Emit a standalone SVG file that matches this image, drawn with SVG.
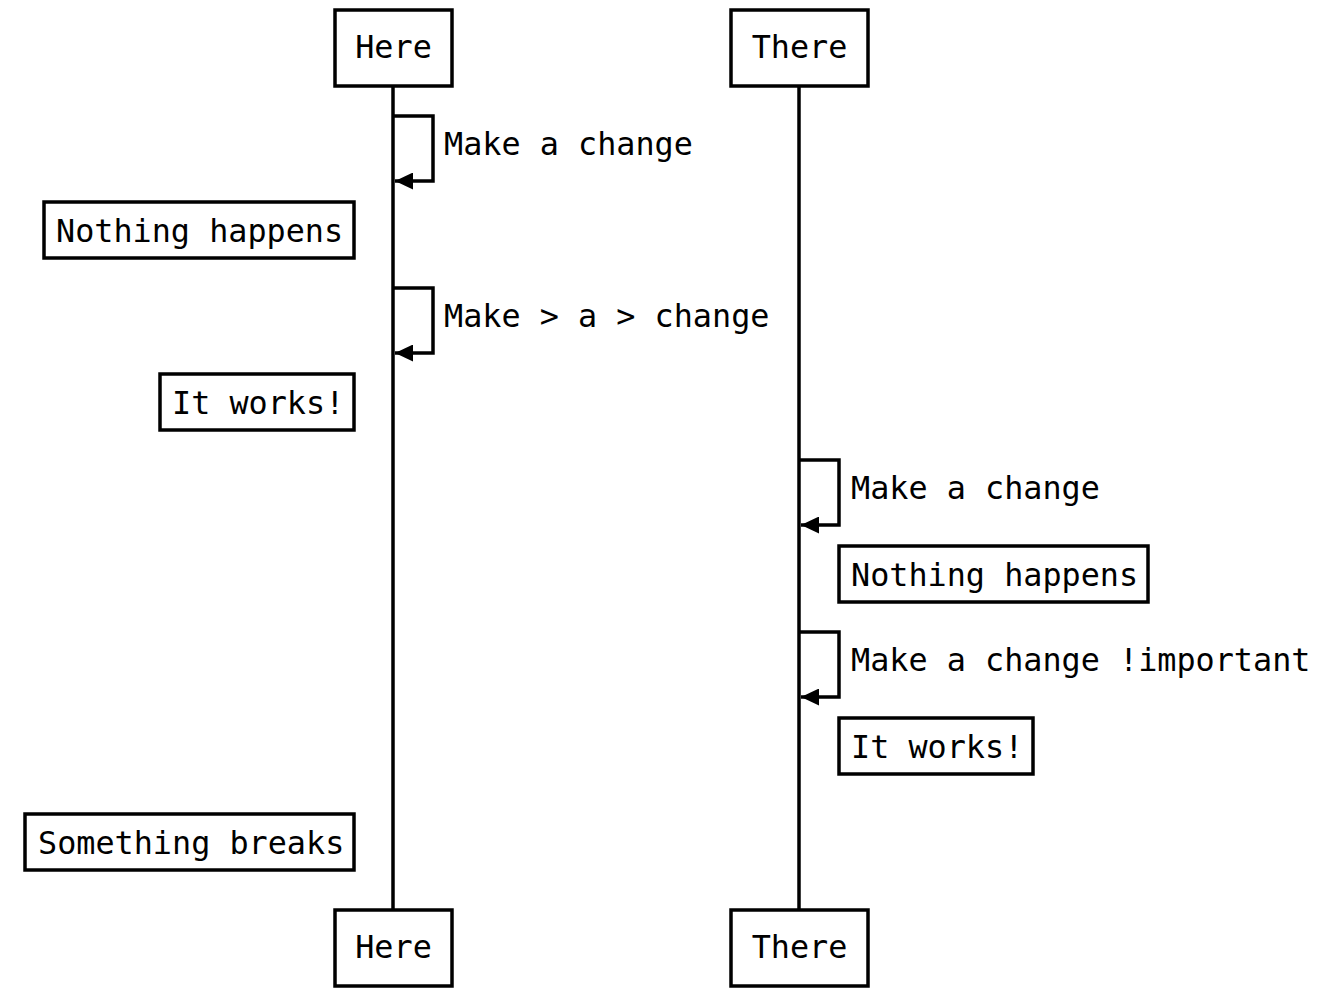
<svg xmlns="http://www.w3.org/2000/svg" width="1322" height="1002" viewBox="0 0 1322 1002">
<style>
.box{fill:#fff;stroke:#000;stroke-width:3.5}
.t{font-family:"DejaVu Sans Mono","Liberation Mono",monospace;font-size:31.8px;fill:#000}
.c{text-anchor:middle}
.life{stroke:#000;stroke-width:3.5;fill:none}
.msg{stroke:#000;stroke-width:3.5;fill:none;marker-end:url(#ah)}
</style>
<defs>
<marker id="ah" viewBox="0 0 18 17" refX="18" refY="8.5" markerWidth="18" markerHeight="17" markerUnits="userSpaceOnUse" orient="auto">
<path d="M0,0 L18,8.5 L0,17 z" fill="#000"/>
</marker>
</defs>
<rect width="1322" height="1002" fill="#fff"/>
<g id="connectors">
<line class="life" x1="393" y1="86" x2="393" y2="910"/>
<line class="life" x1="799" y1="86" x2="799" y2="910"/>
<path class="msg" d="M393,116 H433 V181 H395"/>
<path class="msg" d="M393,288 H433 V353 H395"/>
<path class="msg" d="M799,460 H839 V525 H801"/>
<path class="msg" d="M799,632 H839 V697 H801"/>
<text class="t" x="444" y="155">Make a change</text>
<text class="t" x="444" y="327">Make &gt; a &gt; change</text>
<text class="t" x="851" y="499">Make a change</text>
<text class="t" x="851" y="671">Make a change !important</text>
</g>
<g id="here-top"><rect class="box" x="335" y="10" width="117" height="76"/><text class="t c" x="393.5" y="58">Here</text></g>
<g id="there-top"><rect class="box" x="731" y="10" width="137" height="76"/><text class="t c" x="799.5" y="58">There</text></g>
<g id="here-bottom"><rect class="box" x="335" y="910" width="117" height="76"/><text class="t c" x="393.5" y="958">Here</text></g>
<g id="there-bottom"><rect class="box" x="731" y="910" width="137" height="76"/><text class="t c" x="799.5" y="958">There</text></g>
<g id="note1"><rect class="box" x="44" y="202" width="310" height="56"/><text class="t" x="56" y="242">Nothing happens</text></g>
<g id="note2"><rect class="box" x="160" y="374" width="194" height="56"/><text class="t" x="172" y="414">It works!</text></g>
<g id="note3"><rect class="box" x="839" y="546" width="309" height="56"/><text class="t" x="851" y="586">Nothing happens</text></g>
<g id="note4"><rect class="box" x="839" y="718" width="194" height="56"/><text class="t" x="851" y="758">It works!</text></g>
<g id="note5"><rect class="box" x="25" y="814" width="329" height="56"/><text class="t" x="38" y="854">Something breaks</text></g>
</svg>
